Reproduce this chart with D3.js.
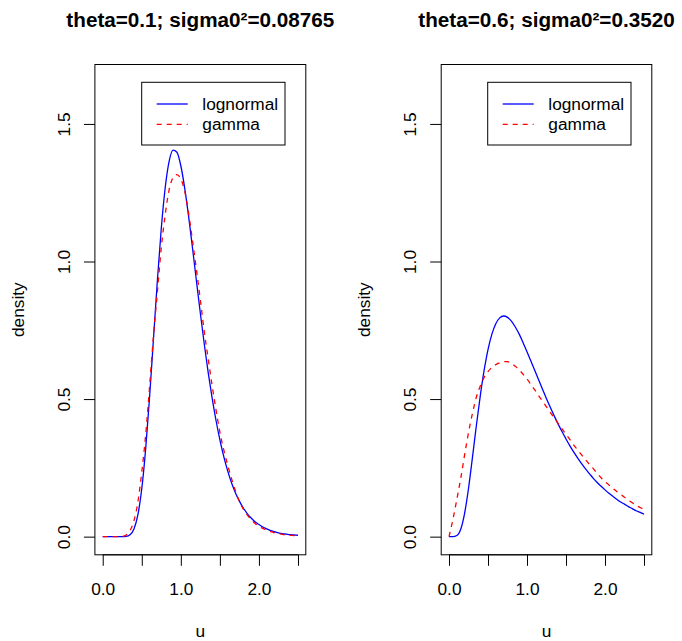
<!DOCTYPE html>
<meta charset="utf-8">
<style>
body { margin: 0; background: #fff; }
text { font-family: "Liberation Sans", Arial, Helvetica, sans-serif; fill: #000; }
</style>
<svg width="682" height="641"></svg>
<script src="https://cdn.jsdelivr.net/npm/d3@7/dist/d3.min.js"></script>
<script>

// grid of u values the densities were read at
var u = [0, 0.05, 0.1, 0.15, 0.2, 0.25, 0.3, 0.35, 0.4, 0.45,
         0.5, 0.55, 0.6, 0.65, 0.7, 0.75, 0.8, 0.85, 0.9, 0.95,
         1, 1.05, 1.1, 1.15, 1.2, 1.25, 1.3, 1.35, 1.4, 1.45,
         1.5, 1.55, 1.6, 1.65, 1.7, 1.75, 1.8, 1.85, 1.9, 1.95,
         2, 2.05, 2.1, 2.15, 2.2, 2.25, 2.3, 2.35, 2.4, 2.45, 2.5];

// theta=0.1 panel
var leftLognormal = [0, 0, 0, 0, 0, 0, 0.001, 0.007, 0.028, 0.079,
                     0.174, 0.319, 0.507, 0.719, 0.932, 1.121, 1.268, 1.364, 1.405, 1.397,
                     1.348, 1.266, 1.163, 1.048, 0.929, 0.812, 0.700, 0.597, 0.505, 0.423,
                     0.352, 0.291, 0.239, 0.195, 0.159, 0.129, 0.104, 0.084, 0.068, 0.054,
                     0.044, 0.035, 0.028, 0.022, 0.018, 0.014, 0.011, 0.009, 0.007, 0.006, 0.005];
var leftGamma = [0, 0, 0, 0, 0, 0.001, 0.006, 0.022, 0.058, 0.125,
                 0.235, 0.37, 0.545, 0.73, 0.89, 1.05, 1.17, 1.26, 1.305, 1.316,
                 1.30, 1.255, 1.175, 1.075, 0.97, 0.86, 0.745, 0.647, 0.55, 0.462,
                 0.38, 0.315, 0.26, 0.21, 0.166, 0.128, 0.10, 0.079, 0.062, 0.048,
                 0.038, 0.030, 0.023, 0.018, 0.014, 0.011, 0.008, 0.006, 0.005, 0.004, 0.003];

// theta=0.6 panel
var rightLognormal = [0, 0, 0.004, 0.027, 0.085, 0.175, 0.286, 0.402, 0.510, 0.604,
                      0.680, 0.736, 0.774, 0.795, 0.802, 0.797, 0.783, 0.762, 0.736, 0.705,
                      0.672, 0.638, 0.604, 0.569, 0.535, 0.501, 0.469, 0.438, 0.409, 0.381,
                      0.355, 0.330, 0.307, 0.285, 0.265, 0.246, 0.229, 0.212, 0.197, 0.183,
                      0.170, 0.158, 0.147, 0.136, 0.126, 0.118, 0.109, 0.102, 0.094, 0.088, 0.082];
var rightGamma = [0, 0.062, 0.135, 0.211, 0.297, 0.378, 0.447, 0.506, 0.547, 0.579,
                  0.600, 0.615, 0.625, 0.632, 0.636, 0.636, 0.630, 0.619, 0.606, 0.590,
                  0.573, 0.553, 0.533, 0.512, 0.492, 0.472, 0.451, 0.431, 0.411, 0.392,
                  0.372, 0.353, 0.333, 0.315, 0.297, 0.280, 0.263, 0.247, 0.230, 0.214,
                  0.200, 0.188, 0.176, 0.164, 0.154, 0.143, 0.133, 0.123, 0.114, 0.106, 0.099];

var titles = ["theta=0.1; sigma0\u00b2=0.08765", "theta=0.6; sigma0\u00b2=0.3520"];
var legendLabels = ["lognormal", "gamma"];
var xTicks = [0, 0.5, 1, 1.5, 2, 2.5];
var xTickLabels = ["0.0", "", "1.0", "", "2.0", ""];
var yTicks = [0, 0.5, 1, 1.5];
var yTickLabels = ["0.0", "0.5", "1.0", "1.5"];

var svg = d3.select("svg"),
    fontSize = 17.3,
    plotTop = 64.5,
    plotBottom = 554.8;

function drawPanel(p) {
  var x = d3.scaleLinear()
      .domain([-0.1, 2.6])
      .range([p.left, p.right]);

  var y = d3.scaleLinear()
      .domain([-0.066, 1.716])
      .range([plotBottom, plotTop]);

  var g = svg.append("g");

  // x axis
  var gx = g.append("g")
      .attr("transform", "translate(0," + plotBottom + ")")
      .call(d3.axisBottom(x)
        .tickValues(xTicks)
        .tickSize(11)
        .tickPadding(17)
        .tickFormat(function(d, i) { return xTickLabels[i]; }));
  gx.select(".domain").remove();
  gx.append("line")
      .attr("x1", x(xTicks[0])).attr("x2", x(xTicks[xTicks.length - 1]))
      .attr("stroke", "#000");
  gx.attr("font-size", fontSize).attr("font-family", null);

  // y axis, labels turned like R's las=0
  var gy = g.append("g")
      .attr("transform", "translate(" + p.left + ",0)")
      .call(d3.axisLeft(y)
        .tickValues(yTicks)
        .tickSize(11)
        .tickFormat(function(d, i) { return yTickLabels[i]; }));
  gy.select(".domain").remove();
  gy.attr("font-size", fontSize).attr("font-family", null);
  gy.selectAll(".tick text")
      .attr("transform", "rotate(-90)")
      .attr("x", 0)
      .attr("y", -25)
      .attr("dy", 0)
      .attr("text-anchor", "middle");

  // box
  g.append("rect")
      .attr("x", p.left).attr("y", plotTop)
      .attr("width", p.right - p.left).attr("height", plotBottom - plotTop)
      .attr("fill", "none").attr("stroke", "#000");

  var line = d3.line()
      .x(function(d, i) { return x(u[i]); })
      .y(function(d) { return y(d); })
      .curve(d3.curveMonotoneX);

  g.append("path")
      .attr("d", line(p.lognormal))
      .attr("fill", "none")
      .attr("stroke", "#0000ff")
      .attr("stroke-width", 1.3);

  g.append("path")
      .attr("d", line(p.gamma))
      .attr("fill", "none")
      .attr("stroke", "#ff0000")
      .attr("stroke-width", 1.3)
      .attr("stroke-dasharray", "5,5");

  // titles and labels
  var cx = (p.left + p.right) / 2;
  g.append("text")
      .attr("x", cx).attr("y", 27)
      .attr("text-anchor", "middle")
      .attr("font-weight", "bold")
      .style("font-size", "20.7px")
      .text(p.title);

  g.append("text")
      .attr("x", cx).attr("y", 637)
      .attr("text-anchor", "middle")
      .style("font-size", fontSize + "px")
      .text("u");

  g.append("text")
      .attr("transform", "translate(" + (p.left - 71) + "," + ((plotTop + plotBottom) / 2) + ") rotate(-90)")
      .attr("text-anchor", "middle")
      .style("font-size", fontSize + "px")
      .text("density");

  // legend (topright, inset)
  var lw = 143.3, lh = 62.7,
      lx = p.right - 20.8 - lw, ly = 82.3;
  var lg = g.append("g").attr("transform", "translate(" + lx + "," + ly + ")");
  lg.append("rect")
      .attr("width", lw).attr("height", lh)
      .attr("fill", "#fff").attr("stroke", "#000");
  var rows = [
    {label: legendLabels[0], color: "#0000ff", dash: null, yy: 21.7},
    {label: legendLabels[1], color: "#ff0000", dash: "5,5", yy: 42}
  ];
  rows.forEach(function(r) {
    lg.append("line")
        .attr("x1", 15).attr("x2", 46)
        .attr("y1", r.yy).attr("y2", r.yy)
        .attr("stroke", r.color)
        .attr("stroke-width", 1.3)
        .attr("stroke-dasharray", r.dash);
    lg.append("text")
        .attr("x", 60.6).attr("y", r.yy)
        .attr("dy", "0.35em")
        .style("font-size", fontSize + "px")
        .text(r.label);
  });
}

drawPanel({left: 94.9, right: 305.8, title: titles[0],
           lognormal: leftLognormal, gamma: leftGamma});
drawPanel({left: 441.2, right: 651.8, title: titles[1],
           lognormal: rightLognormal, gamma: rightGamma});

</script>
